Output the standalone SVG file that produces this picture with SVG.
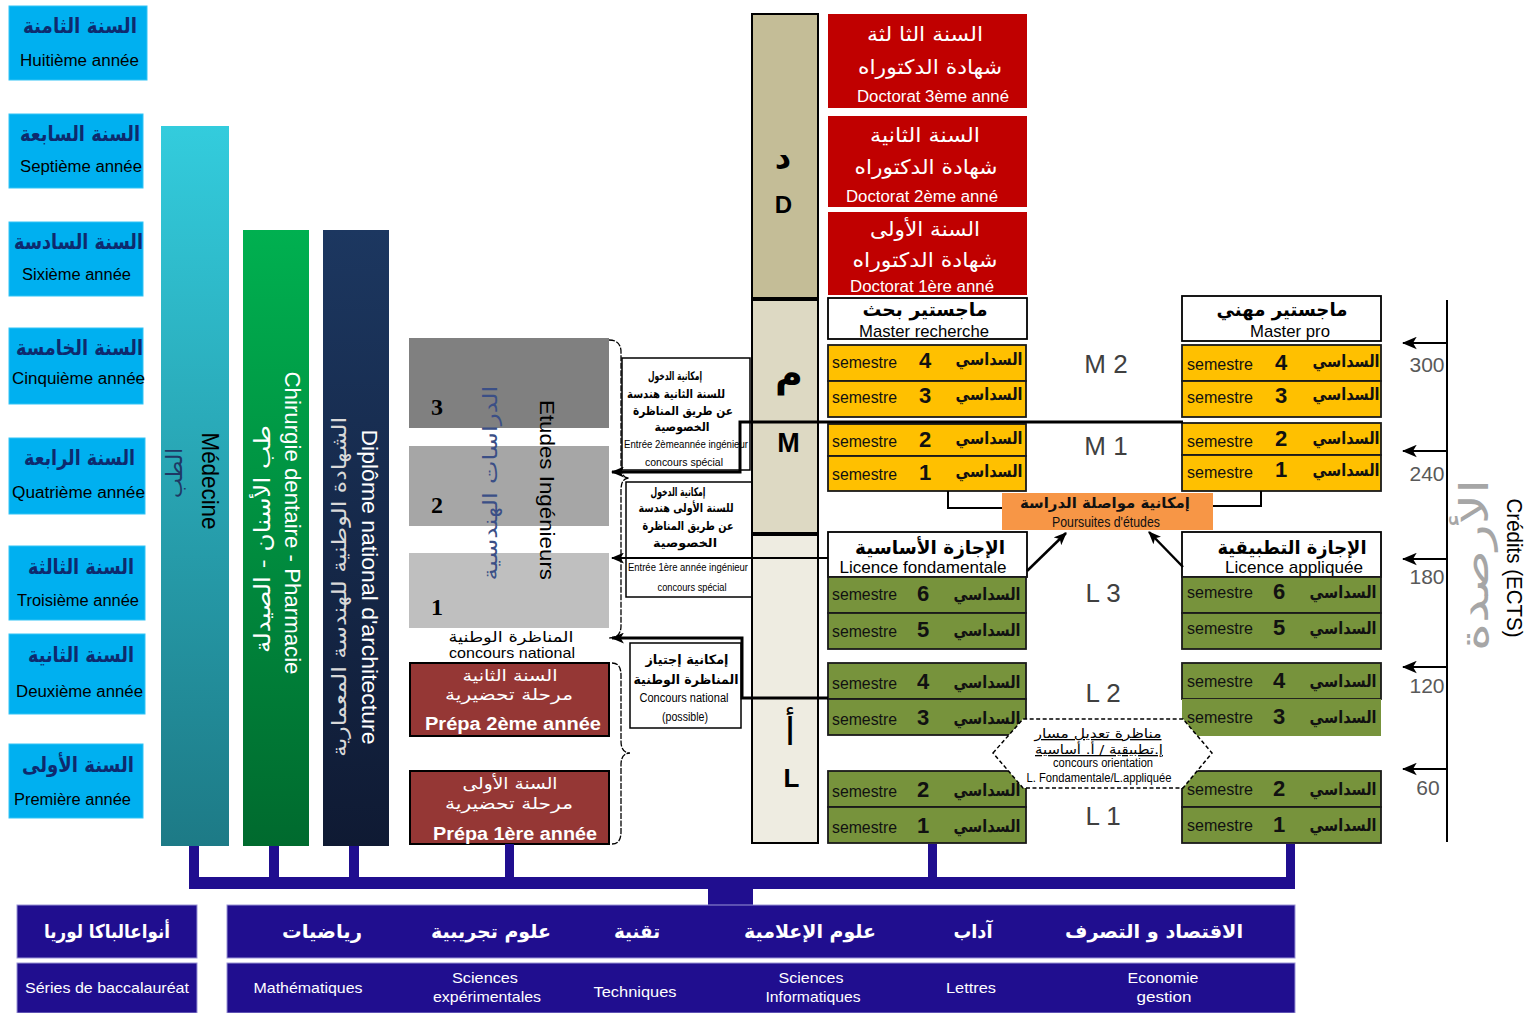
<svg xmlns="http://www.w3.org/2000/svg" width="1537" height="1013" viewBox="0 0 1537 1013">
<defs>
<linearGradient id="gMed" x1="0" y1="0" x2="0" y2="1"><stop offset="0" stop-color="#33ccdd"/><stop offset="1" stop-color="#1d7a86"/></linearGradient>
<linearGradient id="gChir" x1="0" y1="0" x2="0" y2="1"><stop offset="0" stop-color="#00b050"/><stop offset="1" stop-color="#006a2e"/></linearGradient>
<linearGradient id="gArch" x1="0" y1="0" x2="0" y2="1"><stop offset="0" stop-color="#1c3760"/><stop offset="1" stop-color="#0f1a33"/></linearGradient>
<marker id="ah" viewBox="0 0 12 10" refX="11" refY="5" markerWidth="13" markerHeight="11" orient="auto" markerUnits="userSpaceOnUse"><path d="M0,0 L12,5 L0,10 L3,5 z" fill="#000"/></marker>
<marker id="ah2" viewBox="0 0 12 10" refX="11" refY="5" markerWidth="15" markerHeight="13" orient="auto" markerUnits="userSpaceOnUse"><path d="M0,0 L12,5 L0,10 L3,5 z" fill="#000"/></marker>
</defs>
<style>
.ar{font-family:"DejaVu Sans",sans-serif;font-weight:bold;text-anchor:middle}
.arn{font-family:"DejaVu Sans",sans-serif;text-anchor:middle}
.fr{font-family:"Liberation Sans",Arial,sans-serif;text-anchor:middle}
.yr{fill:#00b0f0;stroke:#33c4f5;stroke-width:1}
.yar{font-size:21px;fill:#0e2a6e}
.yfr{font-size:16px;fill:#000}
.doc{fill:#c00000}
.wt{fill:#fff}
.box{fill:#fff;stroke:#000;stroke-width:1.8}
.nb{fill:#fff;stroke:#000;stroke-width:1.5}
.ye{fill:#ffc000;stroke:#1a1a1a;stroke-width:1.8}
.gr{fill:#77933c;stroke:#1a1a1a;stroke-width:1.8}
.sem{font-family:"Liberation Sans",Arial,sans-serif;font-size:16px;fill:#111}
.num{font-family:"Liberation Sans",Arial,sans-serif;font-weight:bold;font-size:22px;text-anchor:middle;fill:#111}
.sd{font-family:"DejaVu Sans",sans-serif;font-weight:bold;font-size:17px;text-anchor:middle;fill:#111}
.lvl{font-family:"Liberation Sans",Arial,sans-serif;font-size:26px;fill:#404040;text-anchor:middle}
.bus{fill:#200e8f}
.bac{fill:#200e8f;stroke:#9a94d6;stroke-width:1}
.bar{font-size:19px;fill:#fff}
.bfr{font-size:15px;fill:#fff}
.cr{font-family:"Liberation Sans",Arial,sans-serif;font-size:21px;fill:#595959;text-anchor:middle}
.ln{fill:none;stroke:#000}
.brace{fill:none;stroke:#000;stroke-width:1.3;stroke-dasharray:6 1.5}
.nt{font-size:12px;fill:#000}
</style>
<rect x="0" y="0" width="1537" height="1013" fill="#fff"/>

<!-- Year boxes -->
<g id="year8"><rect class="yr" x="9" y="6" width="138" height="74"/><text class="ar yar" x="80" y="33" textLength="114" lengthAdjust="spacingAndGlyphs">السنة الثامنة</text><text class="fr yfr" x="79.5" y="66" textLength="119" lengthAdjust="spacingAndGlyphs">Huitième année</text></g>
<g id="year7"><rect class="yr" x="9" y="114" width="134" height="74"/><text class="ar yar" x="80" y="141" textLength="120" lengthAdjust="spacingAndGlyphs">السنة السابعة</text><text class="fr yfr" x="81" y="172" textLength="122" lengthAdjust="spacingAndGlyphs">Septième année</text></g>
<g id="year6"><rect class="yr" x="9" y="222" width="134" height="74"/><text class="ar yar" x="78.5" y="249" textLength="129" lengthAdjust="spacingAndGlyphs">السنة السادسة</text><text class="fr yfr" x="76.5" y="280" textLength="109" lengthAdjust="spacingAndGlyphs">Sixième année</text></g>
<g id="year5"><rect class="yr" x="9" y="328" width="134" height="76"/><text class="ar yar" x="79.5" y="355" textLength="127" lengthAdjust="spacingAndGlyphs">السنة الخامسة</text><text class="fr yfr" x="78.5" y="384" textLength="133" lengthAdjust="spacingAndGlyphs">Cinquième année</text></g>
<g id="year4"><rect class="yr" x="9" y="438" width="136" height="76"/><text class="ar yar" x="79.5" y="465" textLength="111" lengthAdjust="spacingAndGlyphs">السنة الرابعة</text><text class="fr yfr" x="78.5" y="498" textLength="133" lengthAdjust="spacingAndGlyphs">Quatrième année</text></g>
<g id="year3"><rect class="yr" x="9" y="546" width="136" height="74"/><text class="ar yar" x="81" y="574" textLength="106" lengthAdjust="spacingAndGlyphs">السنة الثالثة</text><text class="fr yfr" x="78" y="606" textLength="122" lengthAdjust="spacingAndGlyphs">Troisième année</text></g>
<g id="year2"><rect class="yr" x="9" y="634" width="136" height="80"/><text class="ar yar" x="81" y="662" textLength="106" lengthAdjust="spacingAndGlyphs">السنة الثانية</text><text class="fr yfr" x="79.5" y="697" textLength="127" lengthAdjust="spacingAndGlyphs">Deuxième année</text></g>
<g id="year1"><rect class="yr" x="9" y="744" width="134" height="74"/><text class="ar yar" x="78" y="772" textLength="112" lengthAdjust="spacingAndGlyphs">السنة الأولى</text><text class="fr yfr" x="72.5" y="805" textLength="117" lengthAdjust="spacingAndGlyphs">Première année</text></g>

<!-- Vertical bars -->
<g id="medecine"><rect x="161" y="126" width="68" height="720" fill="url(#gMed)"/>
<text class="fr" font-size="24" fill="#000" transform="translate(202,481) rotate(90)" textLength="97" lengthAdjust="spacingAndGlyphs">Médecine</text>
<text class="arn" font-size="22" fill="#1f3864" transform="translate(182,473) rotate(-90)" textLength="50" lengthAdjust="spacingAndGlyphs">الطب</text></g>
<g id="chirurgie"><rect x="243" y="230" width="66" height="616" fill="url(#gChir)"/>
<text class="fr" font-size="22" fill="#fff" transform="translate(285,523) rotate(90)" textLength="303" lengthAdjust="spacingAndGlyphs">Chirurgie dentaire - Pharmacie</text>
<text class="arn" font-size="22" fill="#fff" transform="translate(270,539) rotate(-90)" textLength="228" lengthAdjust="spacingAndGlyphs">طب الأسنان - الصيدلة</text></g>
<g id="architecture"><rect x="323" y="230" width="66" height="616" fill="url(#gArch)"/>
<text class="fr" font-size="22" fill="#fff" transform="translate(362,587) rotate(90)" textLength="315" lengthAdjust="spacingAndGlyphs">Diplôme national d'architecture</text>
<text class="arn" font-size="20" fill="#d9d9d9" transform="translate(346,587) rotate(-90)" textLength="340" lengthAdjust="spacingAndGlyphs">الشهادة الوطنية للهندسة المعمارية</text></g>

<!-- Ingenieurs -->
<g id="ing3"><rect x="409" y="338" width="200" height="90" fill="#808080"/><text x="437" y="415" font-family="Liberation Serif,serif" font-weight="bold" font-size="24" text-anchor="middle">3</text></g>
<g id="ing2"><rect x="409" y="446" width="200" height="80" fill="#a6a6a6"/><text x="437" y="513" font-family="Liberation Serif,serif" font-weight="bold" font-size="24" text-anchor="middle">2</text></g>
<g id="ing1"><rect x="409" y="553" width="200" height="75" fill="#bfbfbf"/><text x="437" y="615" font-family="Liberation Serif,serif" font-weight="bold" font-size="24" text-anchor="middle">1</text></g>
<g id="ing-label">
<text class="fr" font-size="20" fill="#000" transform="translate(540,490) rotate(90)" textLength="180" lengthAdjust="spacingAndGlyphs">Etudes Ingénieurs</text>
<text class="arn" font-size="20" fill="#3b4f86" transform="translate(497,483) rotate(-90)" textLength="195" lengthAdjust="spacingAndGlyphs">الدراسات الهندسية</text></g>
<g id="concours-national"><text class="arn" x="511" y="642" font-size="15" fill="#000" textLength="125" lengthAdjust="spacingAndGlyphs">المناظرة الوطنية</text><text class="fr" x="512" y="658" font-size="15" fill="#000" textLength="126" lengthAdjust="spacingAndGlyphs">concours national</text></g>

<g id="prepa2"><rect x="410" y="663" width="199" height="73" fill="#953735" stroke="#000" stroke-width="2"/>
<text class="arn wt" x="510" y="681" font-size="16" textLength="95" lengthAdjust="spacingAndGlyphs">السنة الثانية</text>
<text class="arn wt" x="509" y="700" font-size="16" textLength="128" lengthAdjust="spacingAndGlyphs">مرحلة تحضيرية</text>
<text class="fr wt" x="513" y="730" font-size="18" font-weight="bold" textLength="176" lengthAdjust="spacingAndGlyphs">Prépa 2ème année</text></g>
<g id="prepa1"><rect x="410" y="771" width="199" height="73" fill="#953735" stroke="#000" stroke-width="2"/>
<text class="arn wt" x="510" y="789" font-size="16" textLength="95" lengthAdjust="spacingAndGlyphs">السنة الأولى</text>
<text class="arn wt" x="509" y="809" font-size="16" textLength="128" lengthAdjust="spacingAndGlyphs">مرحلة تحضيرية</text>
<text class="fr wt" x="515" y="840" font-size="18" font-weight="bold" textLength="164" lengthAdjust="spacingAndGlyphs">Prépa 1ère année</text></g>

<!-- Braces -->
<path class="brace" d="M609,340 Q621,340 621,352 L621,466 Q621,478 629,478 Q621,478 621,490 L621,626 Q621,638 609,638"/>
<path class="brace" d="M612,663 Q621,663 621,675 L621,741 Q621,753 630,753 Q621,753 621,765 L621,832 Q621,844 612,844"/>

<!-- Note boxes -->
<g id="noteA"><rect class="nb" x="622" y="358" width="128" height="112" stroke-width="2.5"/>
<text class="ar nt" x="675" y="380" textLength="54" lengthAdjust="spacingAndGlyphs">إمكانية الدخول</text>
<text class="ar nt" x="676" y="398" textLength="98" lengthAdjust="spacingAndGlyphs">للسنة الثانية هندسة</text>
<text class="ar nt" x="683" y="415" textLength="100" lengthAdjust="spacingAndGlyphs">عن طريق المناظرة</text>
<text class="ar nt" x="682" y="431" textLength="55" lengthAdjust="spacingAndGlyphs">الخصوصية</text>
<text class="fr" x="686" y="448" font-size="10" textLength="124" lengthAdjust="spacingAndGlyphs">Entrée 2èmeannée ingénieur</text>
<text class="fr" x="684" y="466" font-size="11" textLength="78" lengthAdjust="spacingAndGlyphs">concours spécial</text></g>
<g id="noteB"><rect class="nb" x="626" y="482" width="126" height="115"/>
<text class="ar nt" x="678" y="496" textLength="55" lengthAdjust="spacingAndGlyphs">إمكانية الدخول</text>
<text class="ar nt" x="686" y="512" textLength="95" lengthAdjust="spacingAndGlyphs">للسنة الأولى هندسة</text>
<text class="ar nt" x="688" y="530" textLength="91" lengthAdjust="spacingAndGlyphs">عن طريق المناظرة</text>
<text class="ar nt" x="685" y="547" textLength="64" lengthAdjust="spacingAndGlyphs">الخصوصية</text>
<text class="fr" x="688" y="571" font-size="10" textLength="120" lengthAdjust="spacingAndGlyphs">Entrée 1ère année ingénieur</text>
<text class="fr" x="692" y="591" font-size="11" textLength="69" lengthAdjust="spacingAndGlyphs">concours spécial</text></g>
<g id="noteC"><rect class="nb" x="630" y="643" width="111" height="85"/>
<text class="ar" x="687" y="664" font-size="13" textLength="83" lengthAdjust="spacingAndGlyphs">إمكانية إجتياز</text>
<text class="ar" x="686" y="684" font-size="13" textLength="105" lengthAdjust="spacingAndGlyphs">المناظرة الوطنية</text>
<text class="fr" x="684" y="702" font-size="12" textLength="89" lengthAdjust="spacingAndGlyphs">Concours national</text>
<text class="fr" x="685" y="721" font-size="12" textLength="46" lengthAdjust="spacingAndGlyphs">(possible)</text></g>

<!-- D M L column -->
<g id="col-D"><rect x="752" y="14" width="66" height="284" fill="#c4bd97" stroke="#000" stroke-width="2"/>
<text class="ar" x="783" y="168" font-size="32" fill="#000">د</text>
<text class="fr" x="783.5" y="213" font-size="24" font-weight="bold" fill="#000">D</text></g>
<g id="col-M"><rect x="752" y="300" width="66" height="233" fill="#ddd9c3" stroke="#000" stroke-width="2"/>
<text class="ar" x="789" y="386" font-size="38" fill="#000">م</text>
<text class="fr" x="788.5" y="452" font-size="27" font-weight="bold" fill="#000">M</text></g>
<g id="col-L"><rect x="752" y="535" width="66" height="308" fill="#eeece1" stroke="#000" stroke-width="2"/>
<text class="arn" x="790" y="745" font-size="38" fill="#000">أ</text>
<text class="fr" x="791.5" y="787" font-size="26" font-weight="bold" fill="#000">L</text></g>

<!-- Doctorate -->
<g id="doc3"><rect class="doc" x="828" y="14" width="199" height="94"/>
<text class="arn wt" x="925" y="41" font-size="20" textLength="116" lengthAdjust="spacingAndGlyphs">السنة الثا لثة</text>
<text class="arn wt" x="930" y="74" font-size="20" textLength="144" lengthAdjust="spacingAndGlyphs">شهادة الدكتوراه</text>
<text class="fr wt" x="933" y="102" font-size="16" textLength="152" lengthAdjust="spacingAndGlyphs">Doctorat 3ème anné</text></g>
<g id="doc2"><rect class="doc" x="828" y="116" width="199" height="91"/>
<text class="arn wt" x="925" y="142" font-size="20" textLength="110" lengthAdjust="spacingAndGlyphs">السنة الثانية</text>
<text class="arn wt" x="926" y="174" font-size="20" textLength="143" lengthAdjust="spacingAndGlyphs">شهادة الدكتوراه</text>
<text class="fr wt" x="922" y="202" font-size="16" textLength="152" lengthAdjust="spacingAndGlyphs">Doctorat 2ème anné</text></g>
<g id="doc1"><rect class="doc" x="828" y="212" width="199" height="83"/>
<text class="arn wt" x="925" y="236" font-size="20" textLength="110" lengthAdjust="spacingAndGlyphs">السنة الأولى</text>
<text class="arn wt" x="925" y="267" font-size="20" textLength="145" lengthAdjust="spacingAndGlyphs">شهادة الدكتوراه</text>
<text class="fr wt" x="922" y="292" font-size="16" textLength="144" lengthAdjust="spacingAndGlyphs">Doctorat 1ère anné</text></g>

<!-- Master recherche -->
<g id="master-recherche"><rect class="box" x="828" y="298" width="199" height="41"/>
<text class="ar" x="925" y="316" font-size="19" textLength="125" lengthAdjust="spacingAndGlyphs">ماجستير بحث</text>
<text class="fr" x="924" y="337" font-size="17" textLength="130" lengthAdjust="spacingAndGlyphs">Master recherche</text></g>
<g id="mr-s4"><rect class="ye" x="828" y="345" width="198" height="36"/><text class="sem" x="832" y="368" textLength="65" lengthAdjust="spacingAndGlyphs">semestre</text><text class="num" x="925" y="368">4</text><text class="sd" x="989" y="365" textLength="67" lengthAdjust="spacingAndGlyphs">السداسي</text></g>
<g id="mr-s3"><rect class="ye" x="828" y="381" width="198" height="36"/><text class="sem" x="832" y="403" textLength="65" lengthAdjust="spacingAndGlyphs">semestre</text><text class="num" x="925" y="403">3</text><text class="sd" x="989" y="400" textLength="67" lengthAdjust="spacingAndGlyphs">السداسي</text></g>
<g id="mr-s2"><rect class="ye" x="828" y="424" width="198" height="32"/><text class="sem" x="832" y="447" textLength="65" lengthAdjust="spacingAndGlyphs">semestre</text><text class="num" x="925" y="447">2</text><text class="sd" x="989" y="444" textLength="67" lengthAdjust="spacingAndGlyphs">السداسي</text></g>
<g id="mr-s1"><rect class="ye" x="828" y="456" width="198" height="35"/><text class="sem" x="832" y="480" textLength="65" lengthAdjust="spacingAndGlyphs">semestre</text><text class="num" x="925" y="480">1</text><text class="sd" x="989" y="477" textLength="67" lengthAdjust="spacingAndGlyphs">السداسي</text></g>

<!-- Master pro -->
<g id="master-pro"><rect class="box" x="1182" y="296" width="199" height="45"/>
<text class="ar" x="1282" y="316" font-size="19" textLength="131" lengthAdjust="spacingAndGlyphs">ماجستير مهني</text>
<text class="fr" x="1290" y="337" font-size="17" textLength="80" lengthAdjust="spacingAndGlyphs">Master pro</text></g>
<g id="mp-s4"><rect class="ye" x="1182" y="345" width="199" height="36"/><text class="sem" x="1187" y="370" textLength="66" lengthAdjust="spacingAndGlyphs">semestre</text><text class="num" x="1281" y="370">4</text><text class="sd" x="1346" y="367" textLength="67" lengthAdjust="spacingAndGlyphs">السداسي</text></g>
<g id="mp-s3"><rect class="ye" x="1182" y="381" width="199" height="36"/><text class="sem" x="1187" y="403" textLength="66" lengthAdjust="spacingAndGlyphs">semestre</text><text class="num" x="1281" y="403">3</text><text class="sd" x="1346" y="400" textLength="67" lengthAdjust="spacingAndGlyphs">السداسي</text></g>
<g id="mp-s2"><rect class="ye" x="1182" y="423" width="199" height="32"/><text class="sem" x="1187" y="447" textLength="66" lengthAdjust="spacingAndGlyphs">semestre</text><text class="num" x="1281" y="446">2</text><text class="sd" x="1346" y="444" textLength="67" lengthAdjust="spacingAndGlyphs">السداسي</text></g>
<g id="mp-s1"><rect class="ye" x="1182" y="455" width="199" height="36"/><text class="sem" x="1187" y="478" textLength="66" lengthAdjust="spacingAndGlyphs">semestre</text><text class="num" x="1281" y="477">1</text><text class="sd" x="1346" y="476" textLength="67" lengthAdjust="spacingAndGlyphs">السداسي</text></g>

<!-- Level labels -->
<g id="labels-ML">
<text class="lvl" x="1106" y="373">M 2</text>
<text class="lvl" x="1106" y="455">M 1</text>
<text class="lvl" x="1103" y="602">L 3</text>
<text class="lvl" x="1103" y="702">L 2</text>
<text class="lvl" x="1103" y="825">L 1</text></g>

<!-- Poursuite -->
<g id="poursuites"><rect x="1002" y="493" width="211" height="37" fill="#f79646"/>
<text class="ar" x="1105" y="508" font-size="15" fill="#111" textLength="170" lengthAdjust="spacingAndGlyphs">إمكانية مواصلة الدراسة</text>
<text class="fr" x="1106" y="527" font-size="15" fill="#111" textLength="108" lengthAdjust="spacingAndGlyphs">Poursuites d'études</text></g>

<!-- Licence fondamentale -->
<g id="licence-fond"><rect class="box" x="828" y="532" width="199" height="45"/>
<text class="ar" x="930" y="554" font-size="19" textLength="150" lengthAdjust="spacingAndGlyphs">الإجازة الأساسية</text>
<text class="fr" x="923" y="573" font-size="17" textLength="167" lengthAdjust="spacingAndGlyphs">Licence fondamentale</text></g>
<g id="lf-s6"><rect class="gr" x="828" y="577" width="198" height="36"/><text class="sem" x="832" y="600" textLength="65" lengthAdjust="spacingAndGlyphs">semestre</text><text class="num" x="923" y="601">6</text><text class="sd" x="987" y="600" textLength="67" lengthAdjust="spacingAndGlyphs">السداسي</text></g>
<g id="lf-s5"><rect class="gr" x="828" y="613" width="198" height="36"/><text class="sem" x="832" y="637" textLength="65" lengthAdjust="spacingAndGlyphs">semestre</text><text class="num" x="923" y="637">5</text><text class="sd" x="987" y="636" textLength="67" lengthAdjust="spacingAndGlyphs">السداسي</text></g>
<g id="lf-s4"><rect class="gr" x="828" y="663" width="198" height="36"/><text class="sem" x="832" y="689" textLength="65" lengthAdjust="spacingAndGlyphs">semestre</text><text class="num" x="923" y="689">4</text><text class="sd" x="987" y="688" textLength="67" lengthAdjust="spacingAndGlyphs">السداسي</text></g>
<g id="lf-s3"><rect class="gr" x="828" y="699" width="198" height="36"/><text class="sem" x="832" y="725" textLength="65" lengthAdjust="spacingAndGlyphs">semestre</text><text class="num" x="923" y="725">3</text><text class="sd" x="987" y="724" textLength="67" lengthAdjust="spacingAndGlyphs">السداسي</text></g>
<g id="lf-s2"><rect class="gr" x="828" y="771" width="198" height="36"/><text class="sem" x="832" y="797" textLength="65" lengthAdjust="spacingAndGlyphs">semestre</text><text class="num" x="923" y="797">2</text><text class="sd" x="987" y="796" textLength="67" lengthAdjust="spacingAndGlyphs">السداسي</text></g>
<g id="lf-s1"><rect class="gr" x="828" y="807" width="198" height="36"/><text class="sem" x="832" y="833" textLength="65" lengthAdjust="spacingAndGlyphs">semestre</text><text class="num" x="923" y="833">1</text><text class="sd" x="987" y="832" textLength="67" lengthAdjust="spacingAndGlyphs">السداسي</text></g>

<!-- Licence appliquee -->
<g id="licence-app"><rect class="box" x="1182" y="532" width="199" height="45"/>
<text class="ar" x="1292" y="554" font-size="19" textLength="149" lengthAdjust="spacingAndGlyphs">الإجازة التطبيقية</text>
<text class="fr" x="1294" y="573" font-size="17" textLength="138" lengthAdjust="spacingAndGlyphs">Licence appliquée</text></g>
<g id="la-s6"><rect class="gr" x="1182" y="577" width="199" height="36"/><text class="sem" x="1187" y="598" textLength="66" lengthAdjust="spacingAndGlyphs">semestre</text><text class="num" x="1279" y="599">6</text><text class="sd" x="1343" y="598" textLength="67" lengthAdjust="spacingAndGlyphs">السداسي</text></g>
<g id="la-s5"><rect class="gr" x="1182" y="613" width="199" height="36"/><text class="sem" x="1187" y="634" textLength="66" lengthAdjust="spacingAndGlyphs">semestre</text><text class="num" x="1279" y="635">5</text><text class="sd" x="1343" y="634" textLength="67" lengthAdjust="spacingAndGlyphs">السداسي</text></g>
<g id="la-s4"><rect class="gr" x="1182" y="663" width="199" height="36"/><text class="sem" x="1187" y="687" textLength="66" lengthAdjust="spacingAndGlyphs">semestre</text><text class="num" x="1279" y="688">4</text><text class="sd" x="1343" y="687" textLength="67" lengthAdjust="spacingAndGlyphs">السداسي</text></g>
<g id="la-s3"><rect x="1182" y="699" width="199" height="37" fill="#77933c"/><text class="sem" x="1187" y="723" textLength="66" lengthAdjust="spacingAndGlyphs">semestre</text><text class="num" x="1279" y="724">3</text><text class="sd" x="1343" y="723" textLength="67" lengthAdjust="spacingAndGlyphs">السداسي</text></g>
<g id="la-s2"><rect class="gr" x="1182" y="771" width="199" height="36"/><text class="sem" x="1187" y="795" textLength="66" lengthAdjust="spacingAndGlyphs">semestre</text><text class="num" x="1279" y="796">2</text><text class="sd" x="1343" y="795" textLength="67" lengthAdjust="spacingAndGlyphs">السداسي</text></g>
<g id="la-s1"><rect class="gr" x="1182" y="807" width="199" height="36"/><text class="sem" x="1187" y="831" textLength="66" lengthAdjust="spacingAndGlyphs">semestre</text><text class="num" x="1279" y="832">1</text><text class="sd" x="1343" y="831" textLength="67" lengthAdjust="spacingAndGlyphs">السداسي</text></g>

<!-- Reorientation hexagon -->
<g id="reorientation"><polygon points="993,753 1023,719 1183,719 1212,753 1183,788 1023,788" fill="#fff" stroke="#000" stroke-width="1.5" stroke-dasharray="4 2.5"/>
<text class="arn" x="1098" y="738" font-size="13" text-decoration="underline" textLength="127" lengthAdjust="spacingAndGlyphs">مناظرة تعديل مسار</text>
<text class="arn" x="1099" y="754" font-size="13" text-decoration="underline" textLength="128" lengthAdjust="spacingAndGlyphs">إ.تطبيقية / أ. أساسية</text>
<text class="fr" x="1103" y="767" font-size="12" textLength="100" lengthAdjust="spacingAndGlyphs">concours orientation</text>
<text class="fr" x="1099" y="782" font-size="12" textLength="145" lengthAdjust="spacingAndGlyphs">L. Fondamentale/L.appliquée</text></g>

<!-- Credits axis -->
<g id="credits">
<line class="ln" x1="1447" y1="300" x2="1447" y2="842" stroke-width="2"/>
<line class="ln" x1="1447" y1="343" x2="1403" y2="343" stroke-width="2" marker-end="url(#ah2)"/>
<line class="ln" x1="1447" y1="451" x2="1403" y2="451" stroke-width="2" marker-end="url(#ah2)"/>
<line class="ln" x1="1447" y1="559" x2="1403" y2="559" stroke-width="2" marker-end="url(#ah2)"/>
<line class="ln" x1="1447" y1="667" x2="1403" y2="667" stroke-width="2" marker-end="url(#ah2)"/>
<line class="ln" x1="1447" y1="769" x2="1403" y2="769" stroke-width="2" marker-end="url(#ah2)"/>
<text class="cr" x="1427" y="372">300</text>
<text class="cr" x="1427" y="481">240</text>
<text class="cr" x="1427" y="584">180</text>
<text class="cr" x="1427" y="693">120</text>
<text class="cr" x="1428" y="795">60</text>
<text class="arn" font-size="40" fill="#a6a6a6" transform="translate(1488,565) rotate(-90)" textLength="172" lengthAdjust="spacingAndGlyphs">الأرصدة</text>
<text class="fr" font-size="22" fill="#000" transform="translate(1507,568) rotate(90)" textLength="139" lengthAdjust="spacingAndGlyphs">Crédits (ECTS)</text>
</g>

<!-- Connectors -->
<g id="connectors">
<polyline class="ln" points="1183,422 740,422 740,472 612,472" stroke-width="3" marker-end="url(#ah)"/>
<line class="ln" x1="828" y1="558" x2="612" y2="558" stroke-width="2" marker-end="url(#ah)"/>
<polyline class="ln" points="828,698 742,698 742,638 612,638" stroke-width="3" marker-end="url(#ah)"/>
<polyline class="ln" points="948,491 948,508 1002,508" stroke-width="2"/>
<polyline class="ln" points="1213,506 1261,506 1261,491" stroke-width="2"/>
<line class="ln" x1="1027" y1="571" x2="1066" y2="533" stroke-width="2.5" marker-end="url(#ah)"/>
<line class="ln" x1="1183" y1="567" x2="1149" y2="532" stroke-width="2.5" marker-end="url(#ah)"/>
<rect class="bus" x="189" y="877" width="1106" height="12"/>
<rect class="bus" x="189" y="846" width="10" height="33"/>
<rect class="bus" x="269" y="846" width="10" height="33"/>
<rect class="bus" x="349" y="846" width="10" height="33"/>
<rect class="bus" x="505" y="844" width="9" height="35"/>
<rect class="bus" x="928" y="844" width="9" height="35"/>
<rect class="bus" x="1286" y="844" width="9" height="35"/>
<rect class="bus" x="708" y="887" width="45" height="19"/>
</g>

<!-- Bac boxes -->
<g id="bac-label"><rect class="bac" x="17" y="905" width="180" height="53"/><rect class="bac" x="17" y="963" width="180" height="50"/>
<text class="ar bar" x="107" y="938" textLength="126" lengthAdjust="spacingAndGlyphs">أنواعالباكا لوريا</text>
<text class="fr bfr" x="107" y="993" textLength="164" lengthAdjust="spacingAndGlyphs">Séries de baccalauréat</text></g>
<g id="bac-series"><rect class="bac" x="227" y="905" width="1068" height="53"/><rect class="bac" x="227" y="963" width="1068" height="50"/>
<text class="ar bar" x="322" y="938" textLength="80" lengthAdjust="spacingAndGlyphs">رياضيات</text>
<text class="ar bar" x="491" y="938" textLength="120" lengthAdjust="spacingAndGlyphs">علوم تجريبية</text>
<text class="ar bar" x="637" y="938" textLength="46" lengthAdjust="spacingAndGlyphs">تقنية</text>
<text class="ar bar" x="810" y="938" textLength="132" lengthAdjust="spacingAndGlyphs">علوم الإعلامية</text>
<text class="ar bar" x="973" y="938" textLength="39" lengthAdjust="spacingAndGlyphs">آداب</text>
<text class="ar bar" x="1154" y="938" textLength="178" lengthAdjust="spacingAndGlyphs">الاقتصاد و التصرف</text>
<text class="fr bfr" x="308" y="993" textLength="109" lengthAdjust="spacingAndGlyphs">Mathématiques</text>
<text class="fr bfr" x="485" y="983" textLength="66" lengthAdjust="spacingAndGlyphs">Sciences</text>
<text class="fr bfr" x="487" y="1002" textLength="108" lengthAdjust="spacingAndGlyphs">expérimentales</text>
<text class="fr bfr" x="635" y="997" textLength="83" lengthAdjust="spacingAndGlyphs">Techniques</text>
<text class="fr bfr" x="811" y="983" textLength="65" lengthAdjust="spacingAndGlyphs">Sciences</text>
<text class="fr bfr" x="813" y="1002" textLength="95" lengthAdjust="spacingAndGlyphs">Informatiques</text>
<text class="fr bfr" x="971" y="993" textLength="50" lengthAdjust="spacingAndGlyphs">Lettres</text>
<text class="fr bfr" x="1163" y="983" textLength="71" lengthAdjust="spacingAndGlyphs">Economie</text>
<text class="fr bfr" x="1164" y="1002" textLength="55" lengthAdjust="spacingAndGlyphs">gestion</text></g>
</svg>
